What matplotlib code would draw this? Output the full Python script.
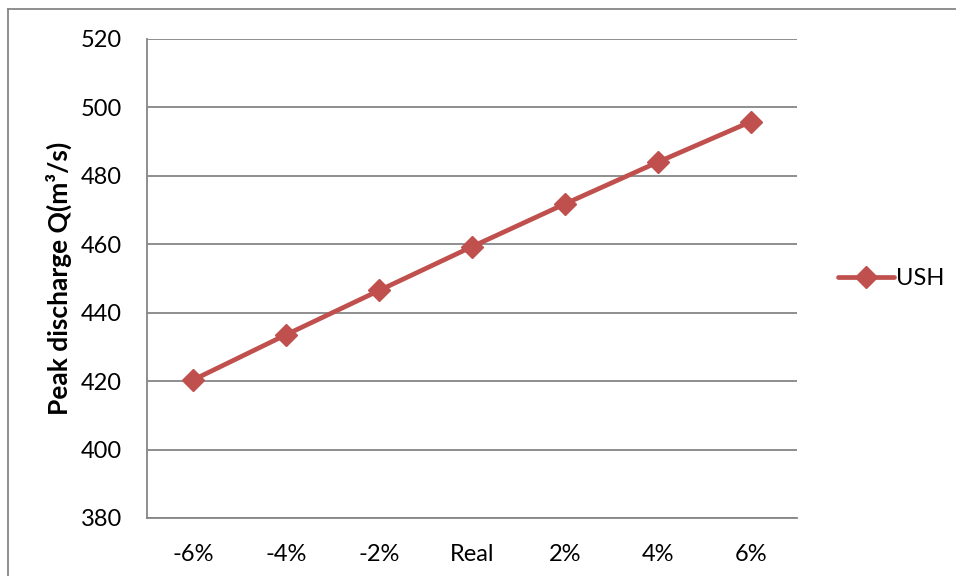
import matplotlib
matplotlib.use("Agg")
import matplotlib.pyplot as plt
from matplotlib.lines import Line2D

plt.rcParams['font.family'] = ['Lato', 'DejaVu Sans']

# peak discharge for each rainfall scenario
scenarios = ['-6%', '-4%', '-2%', 'Real', '2%', '4%', '6%']
ush = [420.4, 433.6, 446.5, 459.3, 471.8, 484.0, 495.8]
yticks = [380, 400, 420, 440, 460, 480, 500, 520]

red = '#C0504D'
grey = '#868686'

fig = plt.figure(figsize=(9.56, 5.76), dpi=100)
ax = fig.add_axes([0.1538, 0.1007, 0.6799, 0.8316])

x = list(range(len(scenarios)))
ax.plot(x, ush, color=red, lw=3.4, marker='D', ms=11, label='USH',
        solid_capstyle='round', zorder=3)

ax.set_xlim(-0.5, len(scenarios) - 0.5)
ax.set_ylim(380, 520)
ax.set_yticks(yticks)
ax.set_xticks(x)
ax.set_xticklabels(scenarios)
ax.tick_params(axis='x', length=0, pad=19, labelsize=17)
ax.tick_params(axis='y', length=0, pad=18, labelsize=17)
ax.yaxis.grid(True, color=grey, lw=1.3)
ax.set_axisbelow(True)

for side in ['top', 'right']:
    ax.spines[side].set_visible(False)
for side in ['left', 'bottom']:
    ax.spines[side].set_color(grey)
    ax.spines[side].set_linewidth(1.3)

ax.set_ylabel('Peak discharge Q(m³/s)', fontsize=19, fontweight='bold',
              labelpad=6)

ax.legend(loc='center left', bbox_to_anchor=(1.03, 0.5), frameon=False,
          fontsize=17, handlelength=2.4, handletextpad=0.05)

# outer chart frame (top and left edges)
fig.add_artist(Line2D([8 / 956, 8 / 956], [0, 1 - 9 / 576],
                      transform=fig.transFigure, color=grey, lw=1.3))
fig.add_artist(Line2D([8 / 956, 1], [1 - 9 / 576, 1 - 9 / 576],
                      transform=fig.transFigure, color=grey, lw=1.3))

fig.savefig('out.png', dpi=100)
